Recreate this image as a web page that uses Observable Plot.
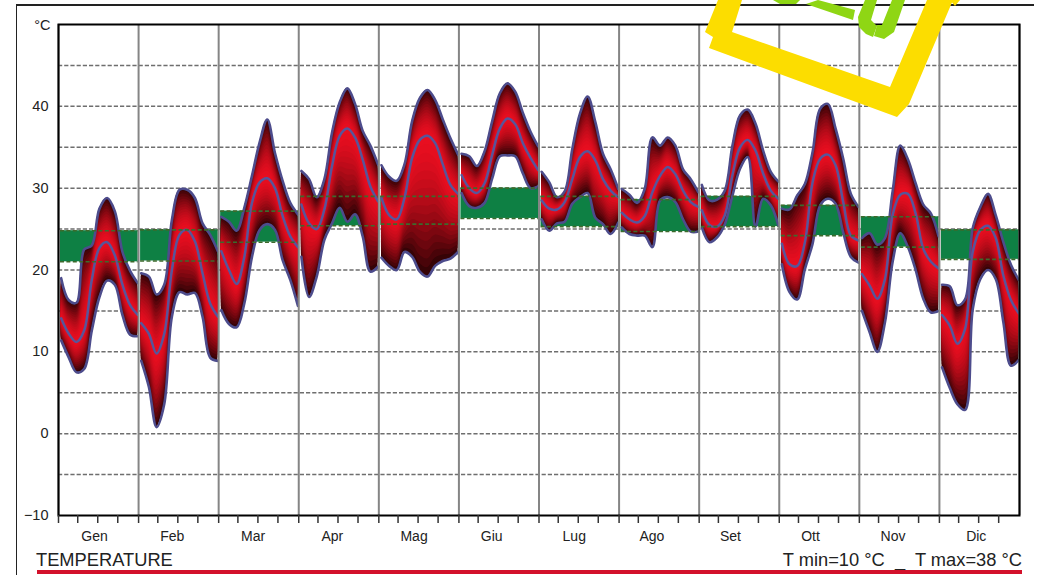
<!DOCTYPE html>
<html><head><meta charset="utf-8">
<script src="https://cdn.jsdelivr.net/npm/d3@7"></script>
<script src="https://cdn.jsdelivr.net/npm/@observablehq/plot@0.6"></script>
<style>
html,body{margin:0;padding:0;background:#fff;overflow:hidden}
body{position:relative;width:1039px;height:575px;font-family:"Liberation Sans",Arial,sans-serif}
#chart{position:absolute;left:0;top:0}
.cap{position:absolute;font-size:18.3px;line-height:20px;color:#222;white-space:pre}
.bar{position:absolute}
#stamp{position:absolute;left:0;top:0;pointer-events:none}
</style></head><body>
<div id="chart"></div>
<div class="bar" style="left:16px;top:4px;width:1018px;height:1.6px;background:#222"></div>
<div class="bar" style="left:15.5px;top:4px;width:1.6px;height:571px;background:#222"></div>
<div class="cap" style="left:36px;top:550px">TEMPERATURE</div>
<div class="cap" style="right:17px;top:550px">T min=10 °C  _  T max=38 °C</div>
<div class="bar" style="left:37px;top:569.5px;width:985px;height:4px;background:#d3112b"></div>
<svg id="stamp" width="1039" height="125" viewBox="0 0 1039 125">
  <g fill="#fcdd00">
    <path d="M718,0 L705,32 L713,37 L709,48 L897,117 L909,104 L953,0 L927,0 L890,87 L732,32 L742,0 Z"/>
    <path d="M950,0 L960,0 L955,6 Z"/>
  </g>
  <g fill="#8fd614">
    <path d="M773,0 L800,0 L796,4 L780,4 Z"/>
    <path d="M806,4 L818,0 L855,10 L853,20 Z"/>
    <path d="M865,0 L877,0 L871,20 L877,26 L873,37 L866,34 L859,27 L858,17 Z"/>
    <path d="M905,0 L894,32 L884,39 L874,36 L877,25 L882,25 L892,0 Z"/>
  </g>
</svg>
<script>
const months = ["Gen","Feb","Mar","Apr","Mag","Giu","Lug","Ago","Set","Ott","Nov","Dic"];
const monthLabelPos = [0.45,1.42,2.43,3.42,4.44,5.41,6.44,7.41,8.39,9.39,10.42,11.46];
const weekOffsets = [0,0.24,0.49,0.74];
const gridValues = [-5,0,5,10,15,20,25,30,35,40,45];
const yTicks = [-10,0,10,20,30,40];
const tempHi = [
 [19.0,16.3,16.0,22.5,23.0,27.5,28.8,27.2,22.2,19.9,18.4],
 [19.6,19.2,17.0,18.2,26.1,29.8,29.8,28.8,25.7,24.3,22.3],
 [26.5,25.9,24.8,27.6,31.5,35.6,38.4,34.3,30.9,28.2,26.8],
 [32.1,31.1,28.9,31.1,36.8,40.5,42.2,40.3,37.0,35.2,32.9],
 [32.8,31.4,30.9,32.9,38.2,41.0,42.0,40.8,38.4,36.1,34.1],
 [34.2,33.9,32.7,34.5,38.2,41.6,42.8,41.8,39.2,36.9,35.1],
 [32.0,30.7,28.9,29.6,34.8,39.1,41.2,38.1,34.2,32.3,29.9],
 [29.9,29.2,28.2,29.9,36.2,35.2,36.2,35.2,32.3,31.1,29.5],
 [30.4,28.5,28.6,29.7,35.2,38.9,39.6,37.9,34.6,32.0,30.8],
 [27.5,27.4,29.1,30.5,34.4,39.7,40.3,37.3,33.6,29.3,27.7],
 [23.9,24.5,23.1,23.9,29.6,35.2,33.5,30.6,28.0,26.9,24.1],
 [18.2,18.0,15.7,16.4,25.1,27.7,29.3,26.7,23.4,20.6,18.8]
];
const tempMean = [
 [14.1,12.2,11.2,12.6,18.8,22.7,23.4,21.8,18.2,15.7,14.5],
 [13.5,12.2,9.8,12.2,20.0,24.3,24.9,23.5,19.6,15.9,14.3],
 [22.3,20.0,18.3,21.6,28.2,30.7,31.2,30.0,26.6,24.1,22.8],
 [28.0,25.7,25.0,27.4,32.7,36.4,37.3,36.2,33.5,30.2,28.4],
 [28.8,26.7,26.2,28.8,33.7,35.9,36.4,35.5,32.9,30.4,29.3],
 [31.6,30.0,29.4,30.6,34.1,37.3,38.5,37.8,35.5,33.7,32.2],
 [28.5,27.5,27.4,28.3,31.1,33.8,34.5,33.4,31.1,29.7,28.9],
 [27.0,26.2,25.8,26.6,29.5,31.5,32.6,31.7,29.7,28.3,27.7],
 [27.3,25.5,25.3,26.7,31.6,35.0,35.9,34.6,31.8,29.7,28.7],
 [23.2,20.7,20.5,23.4,30.7,33.6,34.1,32.8,28.3,24.2,23.6],
 [19.5,18.1,16.5,18.9,26.7,29.2,29.3,26.9,22.6,21.0,20.2],
 [14.5,13.2,11.0,12.8,22.2,24.9,25.4,23.9,19.3,16.3,14.7]
];
const tempLo = [
 [11.4,9.3,7.5,7.9,12.6,16.7,18.7,18.2,14.5,12.1,11.9],
 [8.9,5.7,0.8,3.6,14.3,17.3,17.0,17.2,14.3,9.3,8.9],
 [15.1,13.4,13.0,15.9,21.6,24.9,25.6,24.9,21.2,18.8,15.6],
 [21.6,16.7,19.2,23.7,25.7,27.6,25.9,26.8,24.1,19.8,20.4],
 [21.5,20.5,20.0,22.2,21.6,19.8,19.2,20.5,21.1,21.4,22.2],
 [29.4,27.8,27.6,28.2,31.2,33.9,34.0,33.9,31.8,30.0,30.2],
 [26.2,24.8,25.7,25.9,28.1,28.9,29.4,26.4,25.6,24.4,25.8],
 [25.2,24.4,24.2,24.2,22.8,28.5,28.9,28.3,26.2,24.7,24.7],
 [25.2,23.4,24.0,25.6,29.1,32.4,33.8,25.3,28.7,27.9,25.4],
 [20.7,17.3,16.4,20.1,23.2,27.9,28.7,28.1,24.6,21.6,20.9],
 [15.0,12.4,10.0,13.6,21.0,24.5,22.8,20.0,16.5,14.8,15.0],
 [8.1,5.6,3.6,2.9,15.2,18.9,20.0,18.9,13.6,8.3,9.0]
];
const normalLo = [21.0,21.1,23.4,25.4,25.6,26.3,25.3,24.7,25.3,24.2,22.8,21.3];
const normalHi = [24.8,24.9,27.2,29.0,29.0,30.0,29.0,28.6,29.0,27.9,26.5,24.9];

const rows = tempMean.flatMap((vals, m) => vals.map((mean, i) => ({
  m, x: m + 0.033 + i * 0.0957, mean, hi: tempHi[m][i], lo: tempLo[m][i]
})));
const bands = months.map((name, m) => ({m, lo: normalLo[m], hi: normalHi[m]}));
const boundaries = d3.range(0, 13);
const weekTicks = d3.range(0, 12).flatMap(m => weekOffsets.map(o => m + o));
const levels = 16;
const ramp = d3.interpolateRgb("#ea0e20", "#360306");
const bandMarks = d3.range(levels, 0, -1).map(k => {
  const t = k / levels;
  return Plot.areaY(rows, {
    x: "x",
    y1: d => d.mean + (d.hi - d.mean) * t,
    y2: d => d.mean + (d.lo - d.mean) * t,
    z: "m",
    fill: ramp(Math.pow(t, 1.7)),
    curve: "catmull-rom"
  });
});
const purple = "#4d4c8c";

const plot = Plot.plot({
  width: 1039, height: 575,
  marginLeft: 58, marginRight: 20, marginTop: 24, marginBottom: 60,
  style: {fontFamily: '"Liberation Sans",Arial,sans-serif', background: "transparent"},
  x: {domain: [0, 12], axis: null},
  y: {domain: [-10, 50], axis: null},
  marks: [
    Plot.ruleY(gridValues, {stroke: "#6e6e6e", strokeWidth: 1.5, strokeDasharray: "4.2,2"}),
    Plot.rectY(bands, {x1: d => d.m + 0.025, x2: d => d.m + 0.995, y1: "lo", y2: "hi", fill: "#0e8044"}),
    ...bandMarks,
    Plot.line(rows, {x: "x", y: "hi", z: "m", stroke: purple, strokeWidth: 2.6, curve: "catmull-rom"}),
    Plot.line(rows, {x: "x", y: "lo", z: "m", stroke: purple, strokeWidth: 2.6, curve: "catmull-rom"}),
    Plot.line(rows, {x: "x", y: "mean", z: "m", stroke: "#57559a", strokeWidth: 2.5, curve: "catmull-rom"}),
    Plot.ruleY(bands, {y: "hi", x1: d => d.m + 0.025, x2: d => d.m + 0.995, stroke: "#3d6a2c", strokeWidth: 1.6, strokeDasharray: "4,2.4"}),
    Plot.ruleY(bands, {y: "lo", x1: d => d.m + 0.025, x2: d => d.m + 0.995, stroke: "#3d6a2c", strokeWidth: 1.6, strokeDasharray: "4,2.4"}),
    Plot.ruleX(boundaries, {stroke: "#858585", strokeWidth: 2}),
    Plot.frame({stroke: "#000", strokeWidth: 2}),
    Plot.axisX({ticks: weekTicks, tickSize: 8, text: null, label: null, stroke: "#333", strokeWidth: 1.5}),
    Plot.axisY({ticks: yTicks, tickSize: 0, tickPadding: 10, fontSize: 14.5, label: null, fill: "#222"}),
    Plot.text(months, {x: (d, i) => monthLabelPos[i], frameAnchor: "bottom", dy: 25, text: d => d, fontSize: 14, fill: "#222"}),
    Plot.text(["°C"], {frameAnchor: "top-left", dx: -8, dy: -5, textAnchor: "end", fontSize: 14.5, fill: "#222"})
  ]
});
document.getElementById("chart").appendChild(plot);
</script>
</body></html>
